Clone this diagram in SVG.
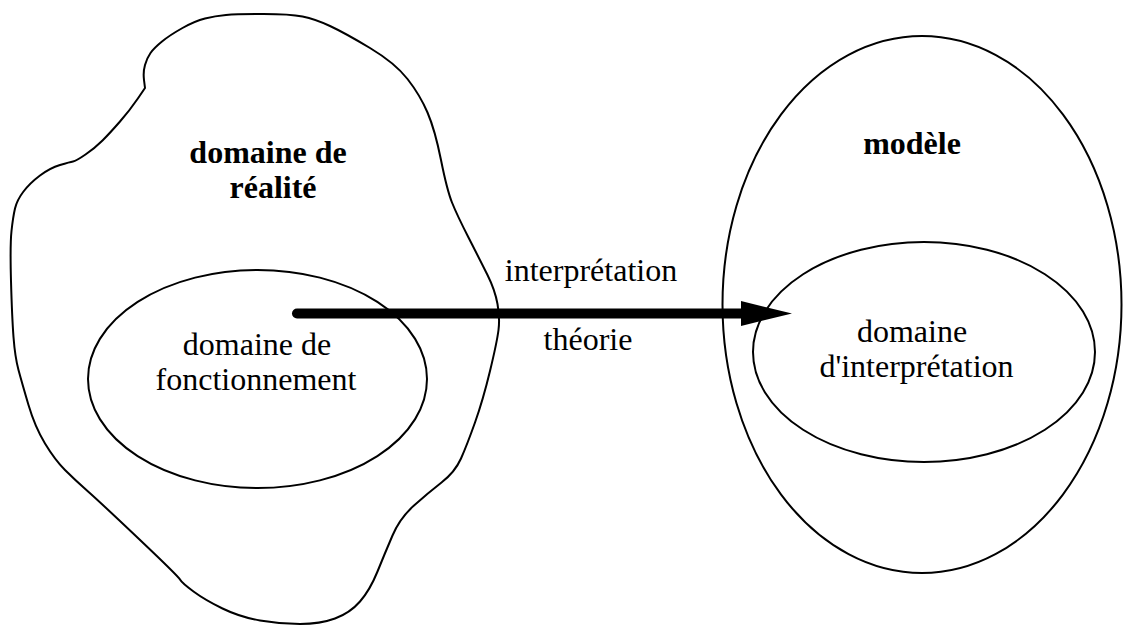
<svg xmlns="http://www.w3.org/2000/svg" width="1123" height="626" viewBox="0 0 1123 626">
<style>
.outline{fill:none;stroke:#000;stroke-width:2;stroke-linejoin:round}
.lbl{font-family:"Liberation Serif","Times New Roman",serif;font-size:32px;fill:#000;text-anchor:middle}
.b{font-weight:bold}
.conn{stroke:#000;stroke-width:10;stroke-linecap:round;fill:none}
</style>
<defs>
<marker id="head" markerUnits="userSpaceOnUse" markerWidth="54" markerHeight="28" refX="1" refY="13" orient="auto">
<path d="M0,0.5 L51,13 L0,25.5 Z" fill="#000"/>
</marker>
</defs>
<rect width="1123" height="626" fill="#fff"/>
<g id="reality">
<path class="outline" d="M145,88 L144,80 Q143,72 145,65 Q147,58 150.5,53 Q154,48 162,41.5 Q170,35 182.5,28 Q195,21 205,18.5 Q215,16 226,15 Q237,14 263.5,14 Q290,14 302.5,16.5 Q315,19 330,26 Q345,33 370,48 Q395,63 407.5,79 Q420,95 427.5,112.5 Q435,130 441,160 Q447,190 452,202.5 Q457,215 468.5,237.5 Q480,260 487.5,275 Q495,290 497.5,304 Q500,318 498.5,330 Q497,342 490,371 Q483,400 475,422.5 Q467,445 461,458.5 Q455,472 441.5,482.5 Q428,493 414,505.5 Q400,518 392.5,535.5 Q385,553 377.5,571.5 Q370,590 360,601.5 Q350,613 335,618.5 Q320,624 300,624 Q280,624 260,620.5 Q240,617 222.5,608.5 Q205,600 193.5,591.5 Q182,583 180,579.5 Q178,576 139,539 Q100,502 87.5,491 Q75,480 65,470 Q55,460 45,443.5 Q35,427 28.5,405 Q22,383 18.5,370 Q15,357 13.5,337 Q12,317 11,281 Q10,245 11.5,231 Q13,217 15,208.5 Q17,200 23.5,191.5 Q30,183 40,175.5 Q50,168 60,165 Q70,162 73,161.5 Q76,161 85.5,154.5 Q95,148 102.5,140.5 Q110,133 120,121.5 Q130,110 137.5,99 Z"/>
<text class="lbl b" x="268" y="163">domaine de</text>
<text class="lbl b" x="273" y="198">réalité</text>
</g>
<g id="fonctionnement">
<ellipse class="outline" cx="257.5" cy="379" rx="169.5" ry="109"/>
<text class="lbl" x="257" y="355">domaine de</text>
<text class="lbl" x="256" y="390">fonctionnement</text>
</g>
<g id="modele">
<ellipse class="outline" cx="922" cy="304.5" rx="199.5" ry="268.5"/>
<text class="lbl b" x="912" y="154">modèle</text>
</g>
<g id="interpretation-domain">
<ellipse class="outline" cx="924" cy="352" rx="171" ry="110"/>
<text class="lbl" x="912" y="342">domaine</text>
<text class="lbl" x="916.5" y="377">d'interprétation</text>
</g>
<g id="connectors">
<line class="conn" x1="297" y1="313.5" x2="742" y2="313.5" marker-end="url(#head)"/>
<text class="lbl" x="591" y="281">interprétation</text>
<text class="lbl" x="588" y="350">théorie</text>
</g>
</svg>
